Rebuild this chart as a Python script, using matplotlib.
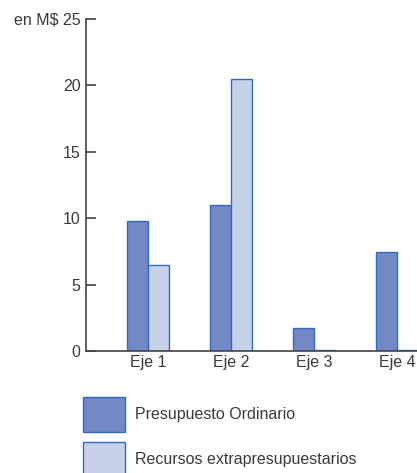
import matplotlib.pyplot as plt
import numpy as np

plt.rcParams['font.family'] = ['Liberation Sans', 'DejaVu Sans']

categories = ['Eje 1', 'Eje 2', 'Eje 3', 'Eje 4']
ordinario = [9.8, 11.0, 1.7, 7.45]
extrapresupuestario = [6.5, 20.5, 0.05, 0.1]
yticks = [0, 5, 10, 15, 20, 25]

dark = '#7389c7'
light = '#c8d1ea'
edge = '#3469bb'
txt = '#3a3a3a'

fig = plt.figure(figsize=(4.17, 4.73), dpi=100)
ax = fig.add_axes([86 / 417, 122 / 473, 1 - 86 / 417, (351 - 19) / 473])

x = np.arange(len(categories))
w = 0.253
ax.bar(x - w / 2, ordinario, w, color=dark, edgecolor=edge, linewidth=1,
       label='Presupuesto Ordinario')
ax.bar(x + w / 2, extrapresupuestario, w, color=light, edgecolor=edge, linewidth=1,
       label='Recursos extrapresupuestarios')

ax.set_xlim(-0.747, 3.241)
ax.set_ylim(0, 25)
ax.set_yticks(yticks)
ax.set_yticklabels([str(v) for v in yticks[:-1]] + ['en M$ 25'])
ax.set_xticks(x)
ax.set_xticklabels(categories)

for s in ['top', 'right']:
    ax.spines[s].set_visible(False)
for s in ['left', 'bottom']:
    ax.spines[s].set_color('#444444')
    ax.spines[s].set_linewidth(1.2)

ax.tick_params(axis='y', direction='in', length=7, width=1.2, color='#444444',
               labelsize=11.5, labelcolor=txt, pad=4)
ax.tick_params(axis='x', length=0, labelsize=11.5, labelcolor=txt, pad=3)

fig.legend(loc='upper left', bbox_to_anchor=(83 / 417, 1 - 397 / 473),
           frameon=False, borderpad=0, borderaxespad=0,
           handlelength=2.65, handleheight=3.0, labelspacing=0.6,
           handletextpad=0.6, fontsize=11.5, labelcolor=txt)

plt.savefig('out.png', dpi=100)
